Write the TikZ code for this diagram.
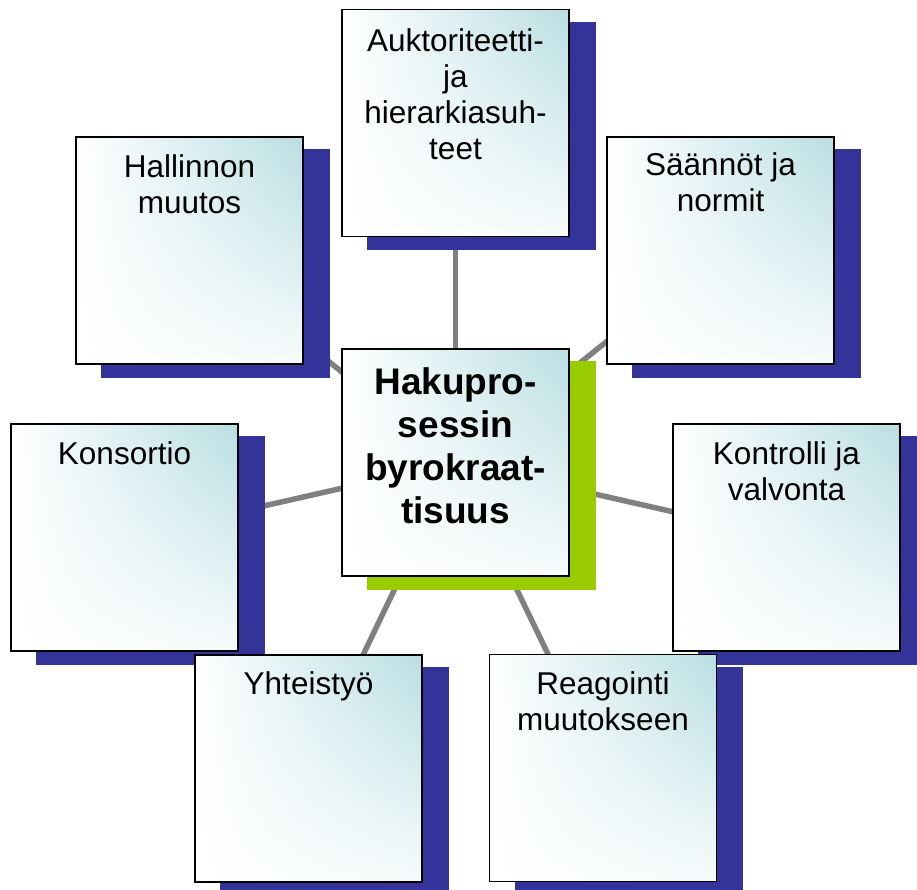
\documentclass[tikz,border=0pt]{standalone}
\usepackage{fontspec}
\setmainfont{Liberation Sans}
\usetikzlibrary{shadings}
\definecolor{tealtop}{RGB}{185,222,226}
\definecolor{shblue}{RGB}{51,51,153}
\definecolor{shgreen}{RGB}{153,204,0}
\definecolor{linegray}{RGB}{128,128,128}
\pgfdeclarelayer{connlayer}
\pgfdeclarelayer{shadowlayer}
\pgfsetlayers{connlayer,shadowlayer,main}
\tikzset{
  boxnode/.style={rectangle, minimum width=227pt, minimum height=227pt, inner sep=0pt,
    draw=black, line width=1.5pt, shade,
    upper left=white, lower left=white, lower right=tealtop!12, upper right=tealtop},
  lbl/.style={anchor=north, align=center, inner sep=0pt, text=black,
    font=\fontsize{31.5}{36}\selectfont},
  centerlbl/.style={anchor=north, align=center, inner sep=0pt, text=black,
    font=\bfseries\fontsize{37}{43}\selectfont},
  conn/.style={draw=linegray, line width=5.5pt},
  blueshadow/.style={fill=shblue},
  greenshadow/.style={fill=shgreen}
}
\newcommand{\boxshadow}[2]{%
  \begin{pgfonlayer}{shadowlayer}
    \fill[#2] ([shift={(26,13)}]#1.south west) rectangle ([shift={(26,13)}]#1.north east);
  \end{pgfonlayer}}
\begin{document}
\begin{tikzpicture}[x=1pt,y=-1pt]
  \useasboundingbox (0,0) rectangle (917,890);
  \clip (0,0) rectangle (917,890);

  % boxes
  \node[boxnode] (b1) at (455.5,123) {};
  \node[boxnode] (b2) at (189.5,250.5) {};
  \node[boxnode] (b3) at (720.5,250.5) {};
  \node[boxnode] (c)  at (455.5,462.5) {};
  \node[boxnode] (b4) at (124.5,537.5) {};
  \node[boxnode] (b5) at (786.5,537.5) {};
  \node[boxnode] (b6) at (308.5,768.5) {};
  \node[boxnode] (b7) at (603,768) {};

  % shadows
  \boxshadow{b1}{blueshadow}
  \boxshadow{b2}{blueshadow}
  \boxshadow{b3}{blueshadow}
  \boxshadow{c}{greenshadow}
  \boxshadow{b4}{blueshadow}
  \boxshadow{b5}{blueshadow}
  \boxshadow{b6}{blueshadow}
  \boxshadow{b7}{blueshadow}

  % connectors
  \begin{pgfonlayer}{connlayer}
    \foreach \t in {b1,b2,b3,b4,b5,b6,b7}
      \draw[conn] (c.center) -- (\t.center);
  \end{pgfonlayer}

  % labels
  \node[lbl] (t1) at ([yshift=-13pt]b1.north) {\rule{0pt}{30pt}Auktoriteetti-\\ja\\hierarkiasuh-\\teet};
  \node[lbl] (t2) at ([yshift=-11pt]b2.north) {\rule{0pt}{30pt}Hallinnon\\muutos};
  \node[lbl] (t3) at ([yshift=-9pt]b3.north) {\rule{0pt}{30pt}Säännöt ja\\normit};
  \node[centerlbl] (tc) at ([yshift=-12pt]c.north) {\rule{0pt}{34pt}Hakupro-\\sessin\\byrokraat-\\tisuus};
  \node[lbl] (t4) at ([yshift=-11pt]b4.north) {\rule{0pt}{30pt}Konsortio};
  \node[lbl] (t5) at ([yshift=-11pt]b5.north) {\rule{0pt}{30pt}Kontrolli ja\\valvonta};
  \node[lbl] (t6) at ([yshift=-10pt]b6.north) {\rule{0pt}{30pt}Yhteistyö};
  \node[lbl] (t7) at ([yshift=-11pt]b7.north) {\rule{0pt}{30pt}Reagointi\\muutokseen};
\end{tikzpicture}
\end{document}
